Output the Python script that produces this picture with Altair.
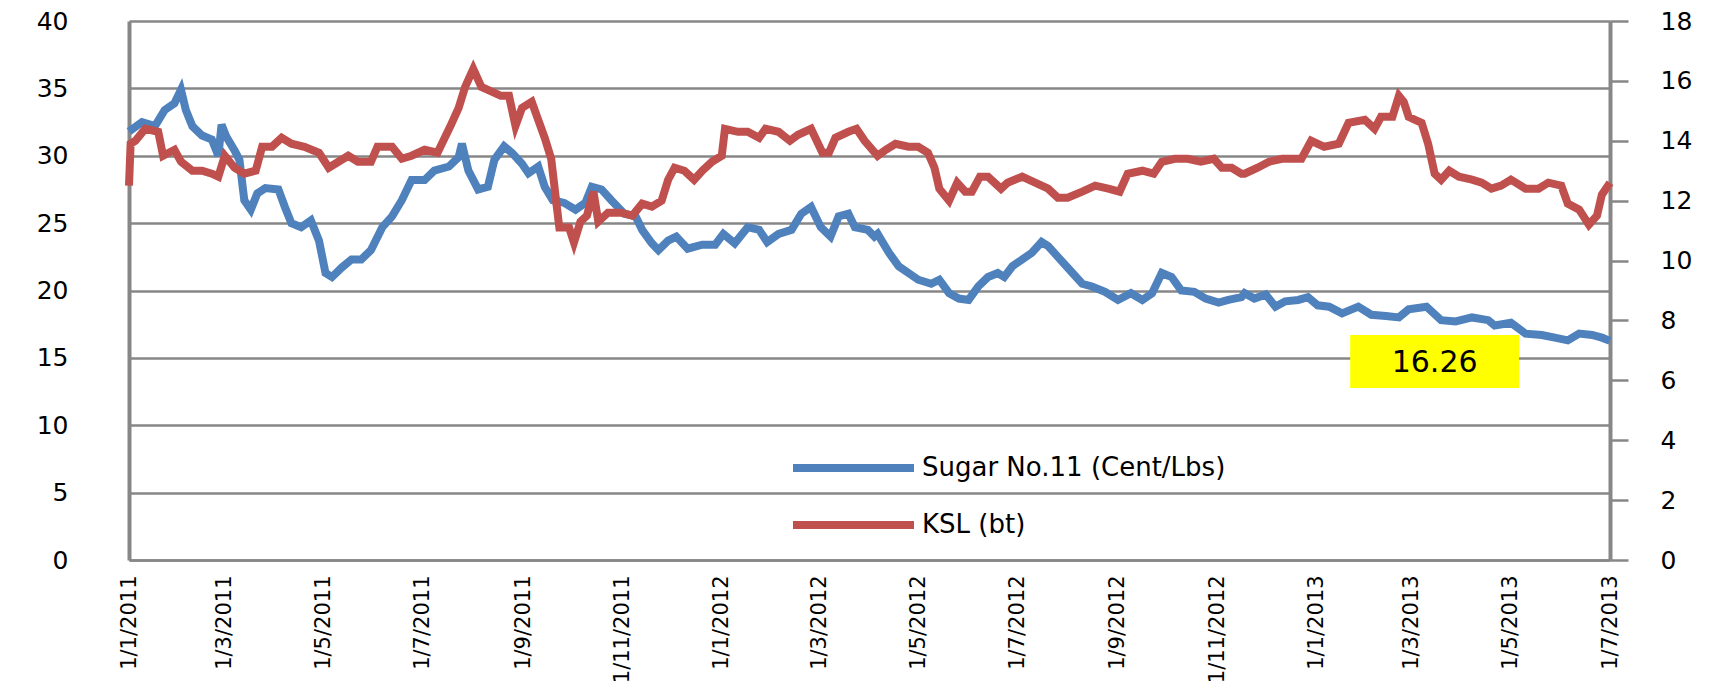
import altair as alt
import pandas as pd

# ---- data (day offset from 1 Jan 2011, value) ----
sugar_days = [0, 8, 16, 22, 28, 32, 35, 39, 45, 51, 55, 57, 60, 65, 68, 71, 75, 79, 84, 92,
              96, 100, 106, 112, 117, 121, 125, 131, 137, 143, 149, 156, 162, 168, 174, 182,
              188, 197, 203, 205, 209, 215, 221, 225, 231,
              236, 242, 246, 252, 256, 261, 268, 275, 281, 285, 291, 297, 305, 312, 316, 322,
              326, 332, 337, 344, 353, 361, 366, 373, 381, 388, 393, 400, 408, 414, 420, 426,
              432, 437, 443, 447, 455, 459,
              461, 468, 474, 480, 486, 494, 499, 505, 511, 517, 523, 529, 535, 539, 544, 550,
              556, 562, 566, 572, 581, 587, 593, 601, 609, 617, 624, 630, 636, 642, 648, 656,
              663, 671, 677, 685,
              687, 693, 700, 706, 712, 720, 726, 732, 739, 747, 757, 765, 774, 782, 788, 799,
              808, 817, 827, 837, 841, 851, 860, 870, 878, 886, 893, 901, 907, 912]
sugar_values = [31.8, 32.5, 32.2, 33.4, 33.9, 34.9, 33.4, 32.2, 31.5, 31.2, 30.0, 32.3, 31.4, 30.4,
                29.7, 26.7, 26.0, 27.2, 27.6, 27.5, 26.2, 25.0, 24.7, 25.2, 23.7, 21.3, 21.0, 21.7,
                22.3, 22.3, 23.0, 24.7, 25.5, 26.7, 28.2, 28.2, 28.9, 29.2, 29.9, 30.9, 28.9, 27.5,
                27.7, 29.7, 30.7,
                30.2, 29.4, 28.7, 29.2, 27.7, 26.7, 26.5, 26.0, 26.5, 27.7, 27.5, 26.7, 25.7, 25.5,
                24.5, 23.5, 23.0, 23.7, 24.0, 23.1, 23.4, 23.4, 24.2, 23.5, 24.7, 24.5, 23.6, 24.2,
                24.5, 25.7, 26.2, 24.7, 24.0, 25.5, 25.7, 24.7, 24.5, 24.0,
                24.2, 22.8, 21.8, 21.3, 20.8, 20.5, 20.8, 19.8, 19.4, 19.3, 20.3, 21.0, 21.3, 21.0,
                21.8, 22.3, 22.8, 23.6, 23.3, 22.5, 21.3, 20.5, 20.3, 19.9, 19.3, 19.8, 19.3, 19.8,
                21.3, 21.0, 20.0, 19.9, 19.4, 19.1, 19.3, 19.5,
                19.8, 19.4, 19.7, 18.8, 19.2, 19.3, 19.5, 18.9, 18.8, 18.3, 18.8, 18.2, 18.1, 18.0,
                18.6, 18.8, 17.8, 17.7, 18.0, 17.8, 17.4, 17.6, 16.8, 16.7, 16.5, 16.3, 16.8, 16.7,
                16.5, 16.26]

ksl_days = [0, 1, 4, 10, 18, 21, 28, 32, 39, 45, 51, 55, 59, 65, 71, 78, 82, 88, 94, 100, 108,
            117, 123, 129, 135, 141, 149, 153, 162, 168, 174, 182, 190, 198, 203, 207, 212, 217,
            221, 229,
            234, 238, 242, 248, 252, 256, 260, 263, 265, 271, 274, 278, 282, 286, 289, 295, 303,
            310, 316, 322, 328, 332, 336, 342, 348, 353, 359, 365, 367, 375, 381, 388, 392, 400,
            407, 412, 420, 427, 431, 435, 443, 448, 453,
            461, 466, 472, 480, 486, 492, 496, 499, 505, 510, 515, 519, 524, 529, 537, 541, 550,
            558, 566, 572, 578, 587, 595, 603, 610, 615, 624, 631, 636, 644, 652, 660, 668, 673,
            679, 685,
            687, 695, 702, 710, 722, 728, 736, 745, 751, 761, 767, 771, 778, 782, 785, 788, 796,
            800, 804, 808, 813, 819, 827, 833, 839, 845, 851, 860, 868, 874, 882, 886, 893, 899,
            904, 907, 912]
ksl_values = [12.5, 13.9, 14.0, 14.4, 14.3, 13.5, 13.7, 13.3, 13.0, 13.0, 12.9, 12.8, 13.5, 13.1,
              12.9, 13.0, 13.8, 13.8, 14.1, 13.9, 13.8, 13.6, 13.1, 13.3, 13.5, 13.3, 13.3, 13.8,
              13.8, 13.4, 13.5, 13.7, 13.6, 14.5, 15.1, 15.8, 16.4, 15.8, 15.7, 15.5,
              15.5, 14.5, 15.1, 15.3, 14.7, 14.1, 13.4, 12.0, 11.1, 11.1, 10.6, 11.3, 11.5, 12.3,
              11.3, 11.6, 11.6, 11.5, 11.9, 11.8, 12.0, 12.7, 13.1, 13.0, 12.7, 13.0, 13.3, 13.5,
              14.4, 14.3, 14.3, 14.1, 14.4, 14.3, 14.0, 14.2, 14.4, 13.6, 13.6, 14.1, 14.3, 14.4,
              14.0,
              13.5, 13.7, 13.9, 13.8, 13.8, 13.6, 13.1, 12.4, 12.0, 12.6, 12.3, 12.3, 12.8, 12.8,
              12.4, 12.6, 12.8, 12.6, 12.4, 12.1, 12.1, 12.3, 12.5, 12.4, 12.3, 12.9, 13.0, 12.9,
              13.3, 13.4, 13.4, 13.3, 13.4, 13.1, 13.1, 12.9,
              12.9, 13.1, 13.3, 13.4, 13.4, 14.0, 13.8, 13.9, 14.6, 14.7, 14.4, 14.8, 14.8, 15.5,
              15.3, 14.8, 14.6, 13.9, 12.9, 12.7, 13.0, 12.8, 12.7, 12.6, 12.4, 12.5, 12.7, 12.4,
              12.4, 12.6, 12.5, 11.9, 11.7, 11.2, 11.5, 12.2, 12.6]

series_names = ["Sugar No.11 (Cent/Lbs)", "KSL (bt)"]
series_colors = ["#4F81BD", "#C0504D"]

x_tick_dates = ["2011-01-01", "2011-03-01", "2011-05-01", "2011-07-01", "2011-09-01",
                "2011-11-01", "2012-01-01", "2012-03-01", "2012-05-01", "2012-07-01",
                "2012-09-01", "2012-11-01", "2013-01-01", "2013-03-01", "2013-05-01",
                "2013-07-01"]
left_ticks = [0, 5, 10, 15, 20, 25, 30, 35, 40]
right_ticks = [0, 2, 4, 6, 8, 10, 12, 14, 16, 18]
left_domain = [0, 40]
right_domain = [0, 18]

# annotation box (left-axis data coordinates) and its label
ann_x0 = ["2013-01-22"]
ann_x1 = ["2013-05-06"]
ann_y0 = [12.76]
ann_y1 = [16.7]
ann_label_x = ["2013-03-15"]
ann_label_y = [14.6]
ann_label = ["16.26"]

# ---- tables ----
start = pd.Timestamp("2011-01-01")
sugar_df = pd.DataFrame({
    "date": (start + pd.to_timedelta(sugar_days, unit="D")).strftime("%Y-%m-%d"),
    "value": sugar_values,
    "series": series_names[0],
})
ksl_df = pd.DataFrame({
    "date": (start + pd.to_timedelta(ksl_days, unit="D")).strftime("%Y-%m-%d"),
    "value": ksl_values,
    "series": series_names[1],
})
box_df = pd.DataFrame({"date": ann_x0, "x1": ann_x1, "y0": ann_y0, "y1": ann_y1})
label_df = pd.DataFrame({"date": ann_label_x, "y": ann_label_y, "label": ann_label})


def ms(d):
    return int(pd.Timestamp(d, tz="UTC").value // 10**6)


x_scale = alt.Scale(type="utc", domain=[ms(x_tick_dates[0]), ms(x_tick_dates[-1])], nice=False)

GRAY = "#878787"
FONT = "DejaVu Sans"
LINE_W = 8

legend = alt.Legend(
    orient="none", legendX=710.5, legendY=433, title=None,
    symbolType="M-6.05,0H6.05", symbolSize=400, symbolStrokeWidth=LINE_W,
    labelFontSize=26, labelFont=FONT, labelColor="black", labelOffset=54.5,
    labelLimit=0, rowPadding=25, padding=0,
)
color = alt.Color("series:N", scale=alt.Scale(domain=series_names, range=series_colors),
                  legend=legend)

x_axis = alt.Axis(
    values=[ms(d) for d in x_tick_dates],
    labelExpr="utcFormat(datum.value, '%-d/%-m/%Y')",
    labelAngle=270, labelFontSize=21, labelFont=FONT, labelColor="black",
    labelPadding=15, ticks=False, grid=False, domainColor=GRAY, domainWidth=2.5,
    title=None, labelOverlap=False,
)


def x_enc():
    return alt.X("date:T", scale=x_scale, axis=x_axis)


sugar_line = alt.Chart(sugar_df).mark_line(strokeWidth=LINE_W).encode(
    x=x_enc(),
    y=alt.Y("value:Q", scale=alt.Scale(domain=left_domain, nice=False, zero=True),
            axis=alt.Axis(orient="left", values=left_ticks, grid=True, gridColor=GRAY,
                          gridWidth=2.5, gridOpacity=1, domainColor=GRAY, domainWidth=4,
                          ticks=False, labelPadding=61, labelFontSize=25, labelFont=FONT,
                          labelColor="black", title=None)),
    color=color,
)

box = alt.Chart(box_df).mark_rect(color="#FFFF00").encode(
    x=x_enc(),
    x2="x1:T",
    y=alt.Y("y0:Q", scale=alt.Scale(domain=left_domain, nice=False, zero=True), axis=None),
    y2="y1:Q",
)

label = alt.Chart(label_df).mark_text(fontSize=30, font=FONT, color="black").encode(
    x=x_enc(),
    y=alt.Y("y:Q", scale=alt.Scale(domain=left_domain, nice=False, zero=True), axis=None),
    text="label:N",
)

ksl_line = alt.Chart(ksl_df).mark_line(strokeWidth=LINE_W).encode(
    x=x_enc(),
    y=alt.Y("value:Q", scale=alt.Scale(domain=right_domain, nice=False, zero=True),
            axis=alt.Axis(orient="right", values=right_ticks, grid=False, domainColor=GRAY,
                          domainWidth=4, ticks=True, tickSize=18, tickColor=GRAY,
                          tickWidth=2.5, labelPadding=32, labelFontSize=25, labelFont=FONT,
                          labelColor="black", labelAlign="left", title=None)),
    color=color,
)

chart = alt.layer(sugar_line, box, label, ksl_line).resolve_scale(y="independent").properties(
    width=1481, height=539,
    autosize=alt.AutoSizeParams(type="none"),
    padding={"left": 121, "top": 13, "right": 100, "bottom": 130},
    background="white",
).configure_view(stroke=None)

chart.save("out.html", embed_options={"renderer": "svg", "actions": False})
